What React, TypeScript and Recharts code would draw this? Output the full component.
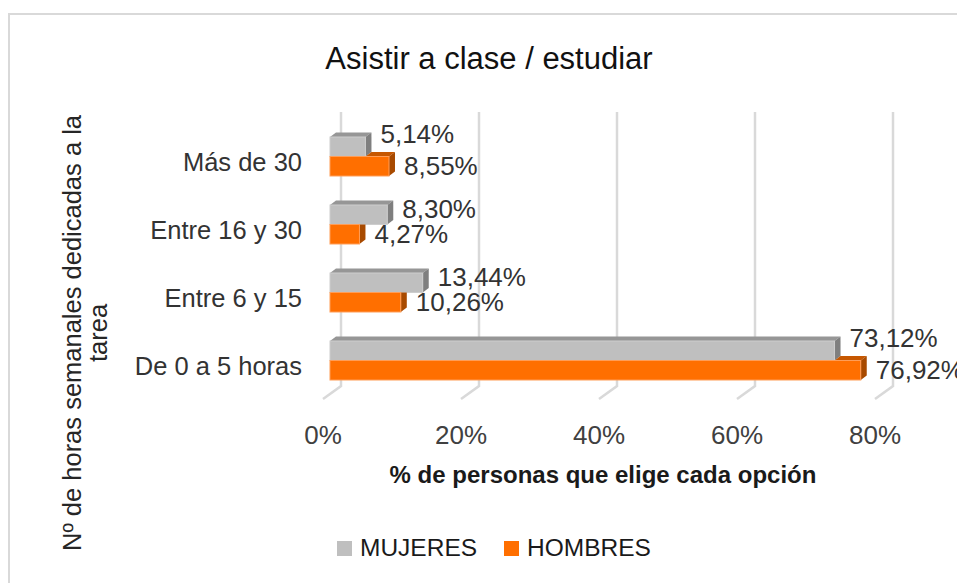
import React from 'react';
import { BarChart, Bar, XAxis, YAxis, CartesianGrid, LabelList, Legend } from 'recharts';

const categories = ['Más de 30', 'Entre 16 y 30', 'Entre 6 y 15', 'De 0 a 5 horas'];
const mujeres = [5.14, 8.3, 13.44, 73.12];
const hombres = [8.55, 4.27, 10.26, 76.92];
const xTicks = [0, 20, 40, 60, 80];
const seriesNames = ['MUJERES', 'HOMBRES'];
const chartTitle = 'Asistir a clase / estudiar';
const xTitle = '% de personas que elige cada opción';
const yTitleLines = ['Nº de horas semanales dedicadas a la', 'tarea'];

const data = categories.map((cat, i) => ({ cat, mujeres: mujeres[i], hombres: hombres[i] }));

const FONT = '"Liberation Sans", Arial, Helvetica, sans-serif';
const DX = 6;
const DY = 4.5;
const GRAY = { front: '#bfbfbf', top: '#969696', side: '#7f7f7f', stroke: '#cdcdcd' };
const ORANGE = { front: '#ff6f00', top: '#c65700', side: '#a84a00', stroke: '#ff9d57' };

const fmt = (v: number) => v.toFixed(2).replace('.', ',') + '%';

function GrayBar(p: any) {
  const { x, y, width: w, height: h } = p;
  if (w == null || h == null) return null;
  return (
    <g>
      <polygon points={`${x},${y} ${x + DX},${y - DY} ${x + w + DX},${y - DY} ${x + w},${y}`} fill={GRAY.top} />
      <polygon points={`${x + w},${y} ${x + w + DX},${y - DY} ${x + w + DX},${y + h - DY} ${x + w},${y + h}`} fill={GRAY.side} />
      <rect x={x} y={y} width={w} height={h} fill={GRAY.front} stroke={GRAY.stroke} strokeWidth={1} />
    </g>
  );
}

function OrangeBar(p: any) {
  const { x, y, width: w, height: h, payload } = p;
  if (w == null || h == null) return null;
  const other = payload && payload.hombres ? (payload.mujeres * w) / payload.hombres : 0;
  const longer = w > other;
  return (
    <g>
      {longer && (
        <polygon
          points={`${x + other},${y} ${x + other + DX},${y - DY} ${x + w + DX},${y - DY} ${x + w},${y}`}
          fill={ORANGE.top}
        />
      )}
      {longer ? (
        <polygon points={`${x + w},${y} ${x + w + DX},${y - DY} ${x + w + DX},${y + h - DY} ${x + w},${y + h}`} fill={ORANGE.side} />
      ) : (
        <polygon points={`${x + w},${y} ${x + w + DX},${y} ${x + w + DX},${y + h - DY} ${x + w},${y + h}`} fill={ORANGE.side} />
      )}
      <rect x={x} y={y} width={w} height={h} fill={ORANGE.front} stroke={ORANGE.stroke} strokeWidth={1} />
    </g>
  );
}

const GrayLabel = (p: any) => {
  const { x, y, width, height, index, value } = p;
  const otherLonger = hombres[index] > mujeres[index];
  const cy = y + height / 2 - (otherLonger ? 13 : 6);
  return (
    <text x={x + width + 15} y={cy} dominantBaseline="central" fontFamily={FONT} fontSize={26} fill="#333">
      {fmt(value)}
    </text>
  );
};

const OrangeLabel = (p: any) => {
  const { x, y, width, height, value } = p;
  const cy = y + height / 2;
  return (
    <text x={x + width + 15} y={cy} dominantBaseline="central" fontFamily={FONT} fontSize={26} fill="#333">
      {fmt(value)}
    </text>
  );
};

const gridLine = (props: any) => {
  const { x1, y1, y2, key } = props;
  const d = `M ${x1 + 11} ${y1 - 10} L ${x1 + 11} ${y2 - 8} L ${x1 - 7} ${y2 + 5}`;
  return <path key={key} d={d} stroke="#d9d9d9" strokeWidth={2.5} fill="none" />;
};

const XTick = (props: any) => {
  const { x, y, payload } = props;
  return (
    <text x={x - 7} y={y + 42} textAnchor="middle" fontFamily={FONT} fontSize={26} fill="#404040">
      {payload.value + '%'}
    </text>
  );
};

const YTick = (props: any) => {
  const { y, payload } = props;
  return (
    <text x={302} y={y + 15} textAnchor="end" fontFamily={FONT} fontSize={25.5} fill="#333">
      {payload.value}
    </text>
  );
};

const renderLegend = (props: any) => {
  const payload = [...(props.payload || [])].sort(
    (a: any, b: any) => seriesNames.indexOf(a.value) - seriesNames.indexOf(b.value)
  );
  return (
    <div style={{ display: 'flex', alignItems: 'center', fontFamily: FONT, fontSize: 24.5, color: '#1a1a1a', whiteSpace: 'nowrap' }}>
      {payload.map((e: any, i: number) => (
        <div key={i} style={{ display: 'flex', alignItems: 'center', marginRight: i === 0 ? 27 : 0 }}>
          <span style={{ width: 15, height: 15, background: e.color, display: 'inline-block', marginRight: 8 }} />
          <span>{e.value}</span>
        </div>
      ))}
    </div>
  );
};

const XTitle = (props: any) => {
  const vb = props.viewBox || { x: 330, y: 394, width: 552, height: 60 };
  return (
    <text x={vb.x + vb.width / 2 - 3} y={vb.y + 89} textAnchor="middle" fontFamily={FONT} fontSize={24} fontWeight="bold" fill="#1a1a1a">
      {xTitle}
    </text>
  );
};

const YTitle = (props: any) => {
  const vb = props.viewBox || { x: 0, y: 122, width: 330, height: 272 };
  const X = vb.x + 81;
  const Y = vb.y + 211;
  return (
    <text transform={`translate(${X},${Y}) rotate(-90)`} textAnchor="middle" fontFamily={FONT} fontSize={25.5} fill="#262626">
      <tspan x={0} y={0}>{yTitleLines[0]}</tspan>
      <tspan x={0} y={26}>{yTitleLines[1]}</tspan>
    </text>
  );
};

export default function App() {
  return (
    <div style={{ position: 'absolute', left: 0, top: 0, width: 957, height: 583, overflow: 'hidden', background: '#fff' }}>
      <div
        style={{
          position: 'absolute',
          left: 8,
          top: 13,
          width: 1200,
          height: 1200,
          borderLeft: '2.5px solid #d9d9d9',
          borderTop: '2.5px solid #d9d9d9',
        }}
      />
      <div
        style={{
          position: 'absolute',
          left: 489,
          top: 41,
          transform: 'translateX(-50%)',
          whiteSpace: 'nowrap',
          fontFamily: FONT,
          fontSize: 31,
          lineHeight: '36px',
          color: '#111',
        }}
      >
        {chartTitle}
      </div>
      <div style={{ position: 'absolute', left: 0, top: 0 }}>
        <BarChart
          width={957}
          height={583}
          data={data}
          layout="vertical"
          margin={{ top: 122, right: 75, bottom: 129, left: 0 }}
          barGap={0}
        >
          <CartesianGrid horizontal={false} vertical={gridLine} />
          <XAxis
            type="number"
            domain={[0, 80]}
            ticks={xTicks}
            axisLine={false}
            tickLine={false}
            height={60}
            tick={<XTick />}
            interval={0}
            label={{ content: <XTitle /> }}
          />
          <YAxis
            type="category"
            dataKey="cat"
            width={330}
            axisLine={false}
            tickLine={false}
            tick={<YTick />}
            interval={0}
            label={{ content: <YTitle /> }}
          />
          <Legend
            layout="horizontal"
            verticalAlign="middle"
            align="center"
            content={renderLegend}
            wrapperStyle={{ position: 'absolute', left: 337, top: 534, width: 'auto', height: 'auto' }}
          />
          <Bar dataKey="mujeres" name={seriesNames[0]} fill={GRAY.front} barSize={19.5} isAnimationActive={false} shape={(p: any) => <GrayBar {...p} />}>
            <LabelList dataKey="mujeres" content={<GrayLabel />} />
          </Bar>
          <Bar dataKey="hombres" name={seriesNames[1]} fill={ORANGE.front} barSize={19.5} isAnimationActive={false} shape={(p: any) => <OrangeBar {...p} />}>
            <LabelList dataKey="hombres" content={<OrangeLabel />} />
          </Bar>
        </BarChart>
      </div>
    </div>
  );
}
